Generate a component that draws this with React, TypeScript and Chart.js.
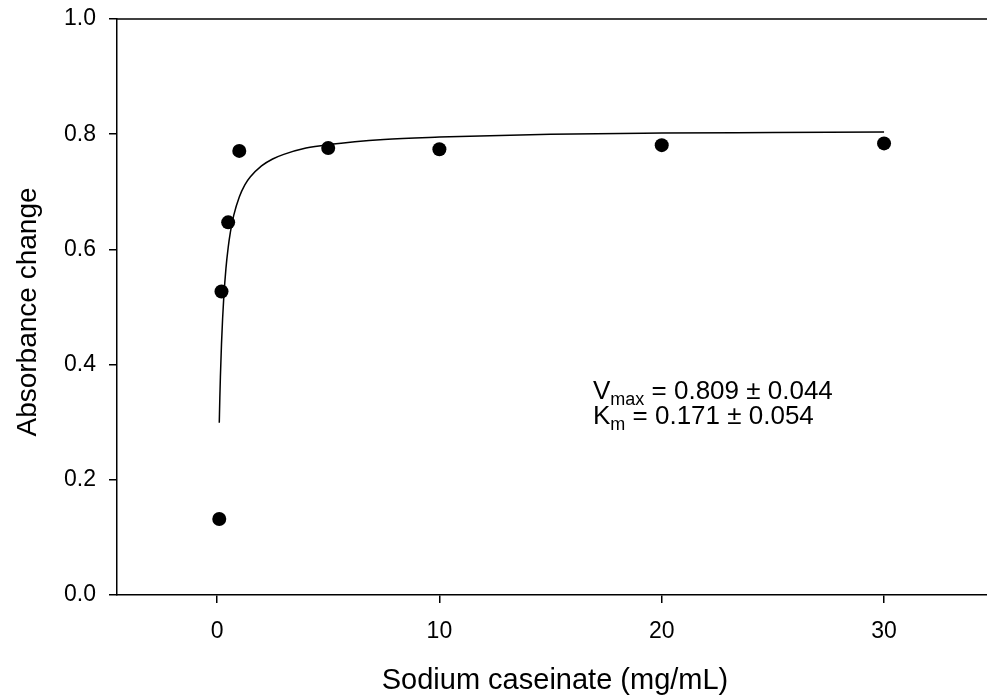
import React, { useEffect, useRef } from "react";
import { Chart, registerables } from "chart.js";

Chart.register(...registerables);

// Measured data (Sodium caseinate concentration, mg/mL vs absorbance change)
const concentrations = [0.1, 0.2, 0.5, 1, 5, 10, 20, 30];
const absorbance = [0.132, 0.527, 0.647, 0.771, 0.776, 0.774, 0.781, 0.784];

// Fitted Michaelis–Menten curve
const fitX = [0.1, 0.125, 0.15, 0.2, 0.25, 0.3, 0.4, 0.5, 0.6, 0.75, 1, 1.25, 1.5, 2, 2.5, 3, 4, 5, 7.5, 10, 15, 20, 25, 30];
const fitY = [0.299, 0.342, 0.378, 0.436, 0.48, 0.515, 0.567, 0.603, 0.63, 0.659, 0.691, 0.712, 0.726, 0.745, 0.757, 0.765, 0.776, 0.782, 0.791, 0.795, 0.8, 0.802, 0.803, 0.804];

const xTicks = [0, 10, 20, 30];
const yTicks = [0, 0.2, 0.4, 0.6, 0.8, 1.0];
const xTitle = "Sodium caseinate (mg/mL)";
const yTitle = "Absorbance change";
const annoLines = [
  { main: "V", sub: "max", rest: " = 0.809 ± 0.044" },
  { main: "K", sub: "m", rest: " = 0.171 ± 0.054" },
];

const FONT = "'Liberation Sans', Arial, sans-serif";

export default function App() {
  const ref = useRef<HTMLCanvasElement | null>(null);

  useEffect(() => {
    if (!ref.current) return;
    const overlay = {
      id: "overlay",
      afterDraw(chart: any) {
        const ctx = chart.ctx as CanvasRenderingContext2D;
        const a = chart.chartArea;
        ctx.save();
        // top frame line
        ctx.strokeStyle = "#000";
        ctx.lineWidth = 1.5;
        ctx.beginPath();
        ctx.moveTo(a.left, a.top);
        ctx.lineTo(a.right, a.top);
        ctx.stroke();

        ctx.fillStyle = "#000";
        // x title
        ctx.font = `29px ${FONT}`;
        ctx.textAlign = "center";
        ctx.textBaseline = "alphabetic";
        ctx.fillText(xTitle, 555, 689);
        // y title
        ctx.font = `28px ${FONT}`;
        ctx.save();
        ctx.translate(36, 312);
        ctx.rotate(-Math.PI / 2);
        ctx.fillText(yTitle, 0, 0);
        ctx.restore();

        // annotation
        ctx.textAlign = "left";
        const baselines = [399, 424];
        annoLines.forEach((l, i) => {
          let x = 593;
          const y = baselines[i];
          ctx.font = `26px ${FONT}`;
          ctx.fillText(l.main, x, y);
          x += ctx.measureText(l.main).width;
          ctx.font = `18px ${FONT}`;
          ctx.fillText(l.sub, x, y + 6);
          x += ctx.measureText(l.sub).width;
          ctx.font = `26px ${FONT}`;
          ctx.fillText(l.rest, x, y);
        });
        ctx.restore();
      },
    };

    const zeroPad = (s: any) => {
      s.paddingTop = 0;
      s.paddingBottom = 0;
      s.paddingLeft = 0;
      s.paddingRight = 0;
    };

    const chart = new Chart(ref.current, {
      type: "scatter",
      data: {
        datasets: [
          {
            label: "data",
            data: concentrations.map((x, i) => ({ x, y: absorbance[i] })),
            backgroundColor: "#000",
            borderColor: "#000",
            borderWidth: 0,
            pointRadius: 7,
            showLine: false,
            order: 0,
          },
          {
            label: "fit",
            data: fitX.map((x, i) => ({ x, y: fitY[i] })),
            showLine: true,
            borderColor: "#000",
            borderWidth: 1.5,
            pointRadius: 0,
            cubicInterpolationMode: "monotone",
            order: 1,
          } as any,
        ],
      },
      options: {
        responsive: false,
        animation: false,
        devicePixelRatio: 1,
        layout: { autoPadding: false, padding: { top: 19, left: 0, right: 0, bottom: 0 } },
        plugins: { legend: { display: false }, tooltip: { enabled: false } },
        scales: {
          x: {
            type: "linear",
            min: -4.5,
            max: 34.63,
            afterBuildTicks: (s: any) => {
              s.ticks = xTicks.map((v) => ({ value: v }));
            },
            afterFit: (s: any) => {
              s.height = 103;
              zeroPad(s);
            },
            ticks: {
              font: { family: FONT, size: 23 },
              color: "#000",
              padding: 15,
              maxRotation: 0,
              autoSkip: false,
            },
            grid: {
              display: true,
              drawOnChartArea: false,
              drawTicks: true,
              tickLength: 8,
              color: "#000",
              lineWidth: 1.5,
            },
            border: { display: true, color: "#000", width: 1.5 },
          },
          y: {
            type: "linear",
            min: 0,
            max: 1,
            afterBuildTicks: (s: any) => {
              s.ticks = yTicks.map((v) => ({ value: v }));
            },
            afterFit: (s: any) => {
              s.width = 117;
              zeroPad(s);
            },
            ticks: {
              font: { family: FONT, size: 23 },
              color: "#000",
              padding: 13,
              autoSkip: false,
              callback: (v: any) => Number(v).toFixed(1),
            },
            grid: {
              display: true,
              drawOnChartArea: false,
              drawTicks: true,
              tickLength: 8,
              color: "#000",
              lineWidth: 1.5,
            },
            border: { display: true, color: "#000", width: 1.5 },
          },
        },
      },
      plugins: [overlay],
    } as any);
    return () => chart.destroy();
  }, []);

  return (
    <div style={{ position: "fixed", left: 0, top: 0, width: 987, height: 698, background: "#fff" }}>
      <canvas ref={ref} width={987} height={698} style={{ display: "block" }} />
    </div>
  );
}
